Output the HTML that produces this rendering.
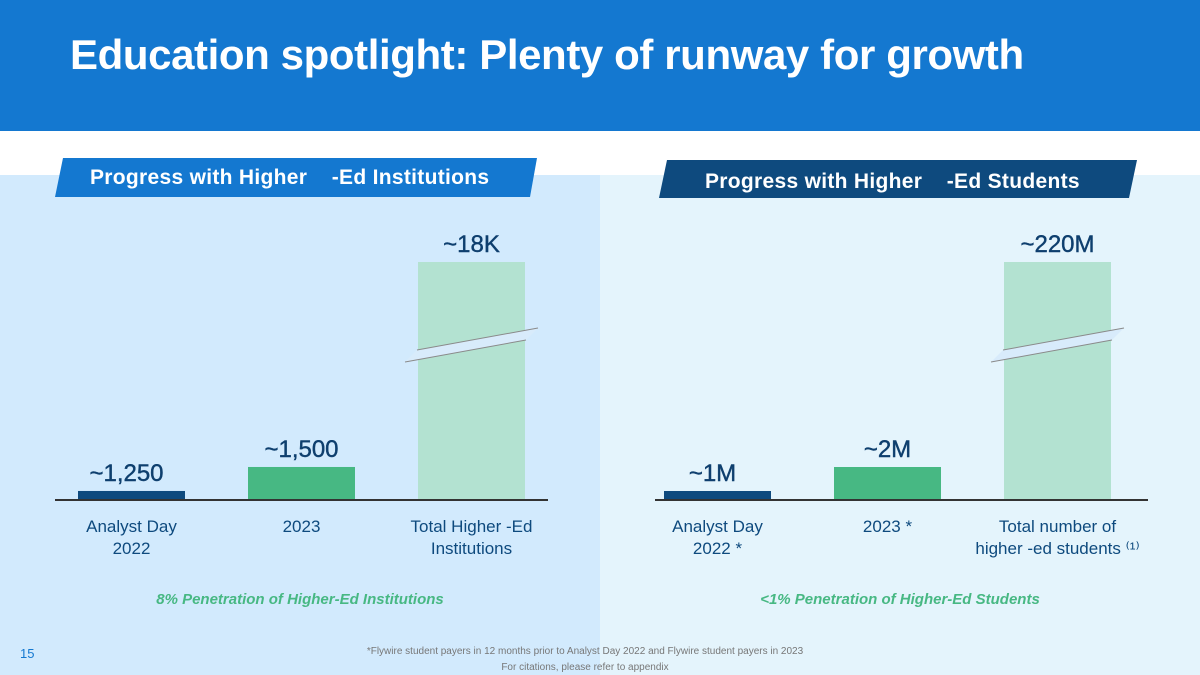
<!DOCTYPE html>
<html><head><meta charset="utf-8"><style>
body{margin:0;width:1200px;height:675px;overflow:hidden;background:#fff;font-family:"Liberation Sans",sans-serif;position:relative}
.abs{position:absolute}
</style></head><body>
<div class="abs" style="left:0;top:0;width:1200px;height:131px;background:#1478d0"></div>
<div class="abs" style="left:70px;top:31px;font-size:42px;font-weight:bold;color:#fff;letter-spacing:-0.4px">Education spotlight: Plenty of runway for growth</div>
<div class="abs" style="left:0;top:175px;width:600px;height:500px;background:#d2eafd"></div>
<div class="abs" style="left:600px;top:175px;width:600px;height:500px;background:#e4f4fc"></div>
<svg class="abs" style="left:0;top:0" width="1200" height="675" id="chart">
<polygon points="63,158 537,158 530,197 55,197" fill="#1478d0"/>
<text x="90" y="184" font-size="21" font-weight="bold" fill="#fff" font-family="Liberation Sans" xml:space="preserve" letter-spacing="0.3">Progress with Higher    -Ed Institutions</text>
<polygon points="667,160 1137,160 1129,198 659,198" fill="#0e4a7e"/>
<text x="705" y="188" font-size="21" font-weight="bold" fill="#fff" font-family="Liberation Sans" xml:space="preserve" letter-spacing="0.3">Progress with Higher    -Ed Students</text>
<g id="marks"></g>
<text x="300" y="604" text-anchor="middle" font-size="15" font-style="italic" font-weight="bold" fill="#47b883" font-family="Liberation Sans">8% Penetration of Higher-Ed Institutions</text>
<text x="900" y="604" text-anchor="middle" font-size="15" font-style="italic" font-weight="bold" fill="#47b883" font-family="Liberation Sans">&lt;1% Penetration of Higher-Ed Students</text>
<text x="20" y="658" font-size="13" fill="#1478d0" font-family="Liberation Sans">15</text>
<text x="585" y="654" text-anchor="middle" font-size="10" fill="#777" font-family="Liberation Sans">*Flywire student payers in 12 months prior to Analyst Day 2022 and Flywire student payers in 2023</text>
<text x="585" y="670" text-anchor="middle" font-size="10" fill="#777" font-family="Liberation Sans">For citations, please refer to appendix</text>
</svg>
<script>
const leftCategories=[["Analyst Day","2022"],["2023"],["Total Higher  -Ed","Institutions"]];
const leftValues=[1250,1500,18000];
const leftLabels=["~1,250","~1,500","~18K"];
const rightCategories=[["Analyst Day","2022 *"],["2023 *"],["Total number of","higher -ed students  ⁽¹⁾"]];
const rightValues=[1,2,220];
const rightLabels=["~1M","~2M","~220M"];
const NS="http://www.w3.org/2000/svg";
const g=document.getElementById('marks');
function mk(t,a){const e=document.createElementNS(NS,t);for(const k in a)e.setAttribute(k,a[k]);g.appendChild(e);return e;}
const colors=["#0e4a7e","#47b883","#b3e2d1"];
function draw(x0,barX0,cats,vals,labels,dmin,k,side){
  const base=500,maxH=238;
  const y=v=>base-Math.min(maxH,(v-dmin)*k);
  vals.forEach((v,i)=>{
    const bx=barX0+i*170,w=107,top=y(v);
    const r=mk('rect',{x:bx,y:top,width:w,height:base-top,fill:colors[i]});
    
    
    if((v-dmin)*k>maxH){
      const p=mk('polygon',{points:`${bx-1},${top+88} ${bx+w+13},${top+66} ${bx+w+1},${top+78} ${bx-13},${top+100}`,fill:'#d8ebfb',stroke:'none'});
      
      
      const l1=mk('line',{x1:bx-1,y1:top+88,x2:bx+w+13,y2:top+66,stroke:'#8a8a8a','stroke-width':1});
      
      
      const l2=mk('line',{x1:bx-13,y1:top+100,x2:bx+w+1,y2:top+78,stroke:'#8a8a8a','stroke-width':1});
      
      
    }
    const lx=i==0?bx+w/2-5:bx+w/2;
    const t=mk('text',{x:lx,y:top-10,'text-anchor':'middle','font-size':24,fill:'#0e3f6e','font-family':'Liberation Sans','stroke':'#0e3f6e','stroke-width':0.4});
    t.textContent=labels[i];
    
    
    cats[i].forEach((line,j)=>{
      const c=mk('text',{x:bx+w/2,y:532+j*22,'text-anchor':'middle','font-size':17,fill:'#0e4a7e','font-family':'Liberation Sans'});
      c.textContent=line;
      
      
    });
  });
  const a=mk('line',{x1:x0,x2:x0+493,y1:base,y2:base,stroke:'#333','stroke-width':2});
  
  
}
draw(55,78,leftCategories,leftValues,leftLabels,1156,0.096,'left');
draw(655,664,rightCategories,rightValues,rightLabels,0.625,24,'right');
</script>
</body></html>
